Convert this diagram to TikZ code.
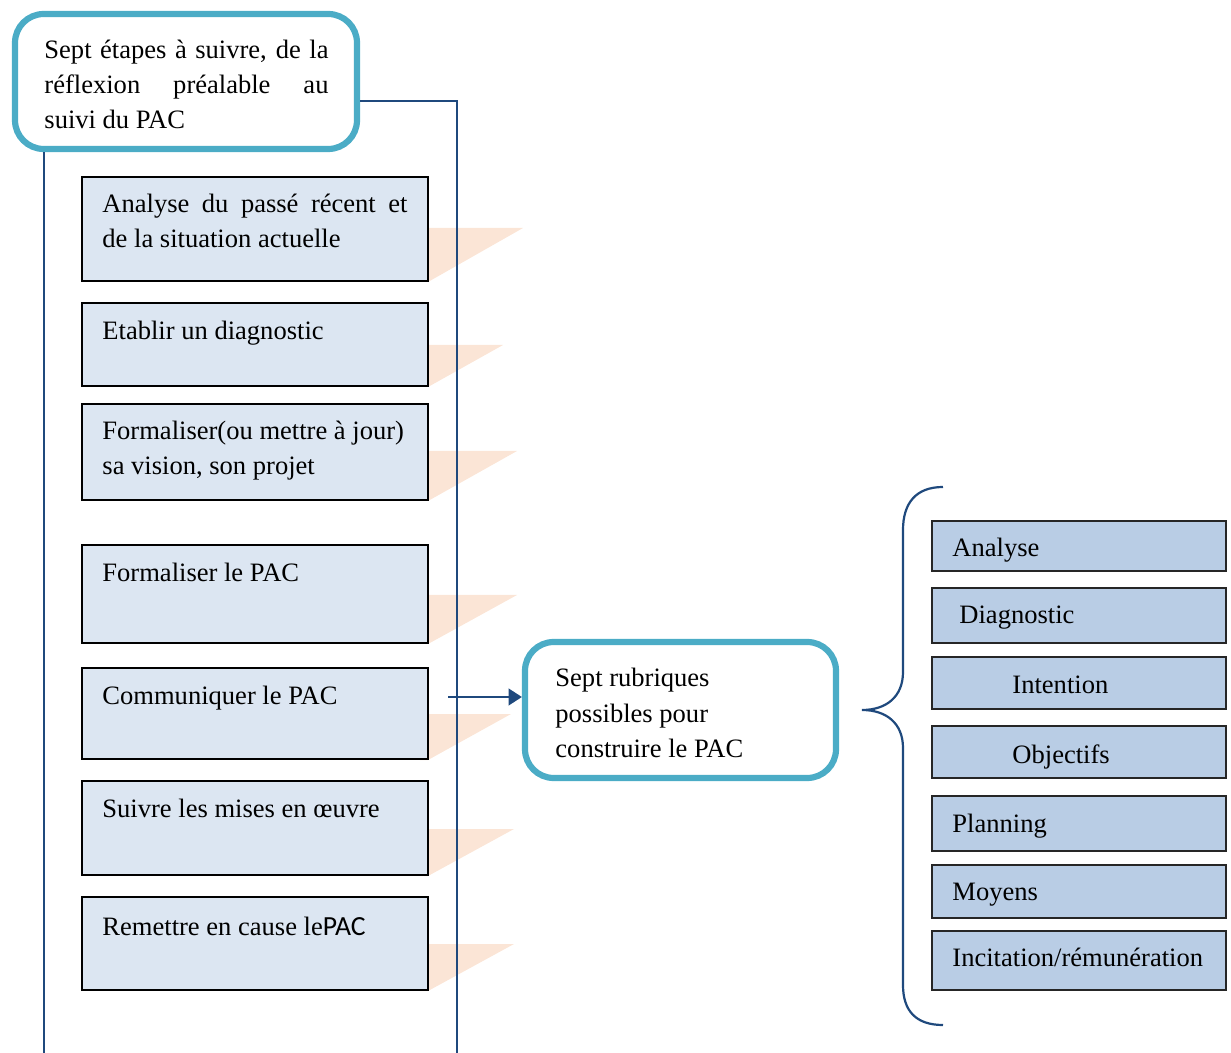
\documentclass[tikz,border=0pt]{standalone}
\usepackage{fontspec}
\setmainfont{Liberation Serif}
\newfontfamily\calibri{Carlito}
\usetikzlibrary{fit,arrows.meta}
\definecolor{frame}{HTML}{4BACC6}
\definecolor{linkblue}{HTML}{1F497D}
\definecolor{stepfill}{HTML}{DCE6F2}
\definecolor{rubfill}{HTML}{B9CDE5}
\definecolor{peach}{HTML}{FBE5D6}

\begin{document}
\begin{tikzpicture}[x=0.452pt,y=-0.452pt,
  roundbox/.style={draw=frame, line width=2.8pt, rounded corners=13pt, fill=white, inner sep=0pt},
  stepbox/.style={draw=black, line width=1.35pt, fill=stepfill, inner sep=0pt},
  rubbox/.style={draw=black!85, line width=1.1pt, fill=rubfill, inner sep=0pt},
  txt/.style={anchor=base west, inner sep=0pt, font=\fontsize{12}{15.82}\selectfont},
  linkline/.style={draw=linkblue, line width=1pt},
  wedge/.style={fill=peach, draw=none}]

\useasboundingbox (0,0) rectangle (1231,1053);

% soft wedges to the right of each step
\fill[wedge] (420,228) -- (523,228) -- (428,282) -- (420,282) -- cycle;
\fill[wedge] (420,345) -- (503,345) -- (428,387) -- (420,387) -- cycle;
\fill[wedge] (420,451) -- (517,451) -- (428,501) -- (420,501) -- cycle;
\fill[wedge] (420,595) -- (517,595) -- (428,644) -- (420,644) -- cycle;
\fill[wedge] (420,714) -- (511,714) -- (428,760) -- (420,760) -- cycle;
\fill[wedge] (420,829) -- (514,829) -- (428,876) -- (420,876) -- cycle;
\fill[wedge] (420,944) -- (514,944) -- (428,991) -- (420,991) -- cycle;

% heading box
\node[roundbox, fit={(15,14) (357,149)}] (top) {};
\node[txt] (ttop) at (44,58.5) {\parbox[t]{128.4pt}{%
  \makebox[128.4pt][s]{Sept étapes à suivre, de la}\\
  \makebox[128.4pt][s]{réflexion préalable au}\\
  suivi du PAC}};

% frame lines of the step column
\coordinate (r0) at (457,101);
\coordinate (r1) at (457,1053);
\coordinate (l1) at (44,1053);
\draw[linkline] (top.east |- r0) -- (r0) -- (r1);
\draw[linkline] (top.south -| l1) -- (l1);

% steps
\node[stepbox, fit={(82,177) (428,281)}] (s1) {};
\node[stepbox, fit={(82,303) (428,386)}] (s2) {};
\node[stepbox, fit={(82,404) (428,500)}] (s3) {};
\node[stepbox, fit={(82,545) (428,643)}] (s4) {};
\node[stepbox, fit={(82,668) (428,759)}] (s5) {};
\node[stepbox, fit={(82,781) (428,875)}] (s6) {};
\node[stepbox, fit={(82,897) (428,990)}] (s7) {};

\node[txt] (ts1) at (102,212.5) {\parbox[t]{140pt}{%
  \makebox[137.9pt][s]{Analyse du passé récent et}\\
  de la situation actuelle}};
\node[txt] (ts2) at (102,339.5) {Etablir un diagnostic};
\node[txt] (ts3) at (102,439.5) {\parbox[t]{150pt}{%
  Formaliser(ou mettre à jour)\\
  sa vision, son projet}};
\node[txt] (ts4) at (102,581.5) {Formaliser le PAC};
\node[txt] (ts5) at (102,704.5) {Communiquer le PAC};
\node[txt] (ts6) at (102,817.5) {Suivre les mises en œuvre};
\node[txt] (ts7) at (102,935.5) {Remettre en cause le{\calibri\fontsize{12.5}{15.82}\selectfont PAC}};

% central box
\node[roundbox, fit={(525,642) (836,778)}] (mid) {};
\node[txt] (tmid) at (555,687) {\parbox[t]{150pt}{%
  Sept rubriques\\
  possibles pour\\
  construire le PAC}};

% arrow into the central box
\coordinate (a0) at (448,697);
\draw[linkline, -{Triangle[length=6pt,width=7.5pt]}] (a0) -- (mid.west |- a0);

% brace
\draw[linkline] (943,487) .. controls (916,487) and (903,503) .. (903,530)
  -- (903,672) .. controls (903,697) and (886,710) .. (862,710)
  .. controls (886,710) and (903,723) .. (903,748)
  -- (903,985) .. controls (903,1011) and (916,1025) .. (943,1025);

% headings
\node[rubbox, fit={(932,521) (1226,571)}] (h1) {};
\node[rubbox, fit={(932,588) (1226,643)}] (h2) {};
\node[rubbox, fit={(932,657) (1226,709)}] (h3) {};
\node[rubbox, fit={(932,726) (1226,778)}] (h4) {};
\node[rubbox, fit={(932,796) (1226,851)}] (h5) {};
\node[rubbox, fit={(932,865) (1226,918)}] (h6) {};
\node[rubbox, fit={(932,931) (1226,990)}] (h7) {};

\node[txt] (th1) at (952,557) {Analyse};
\node[txt] (th2) at (959,624) {Diagnostic};
\node[txt] (th3) at (1012,693) {Intention};
\node[txt] (th4) at (1012,763) {Objectifs};
\node[txt] (th5) at (952,832) {Planning};
\node[txt] (th6) at (952,900) {Moyens};
\node[txt] (th7) at (952,966) {Incitation/rémunération};
\end{tikzpicture}
\end{document}
